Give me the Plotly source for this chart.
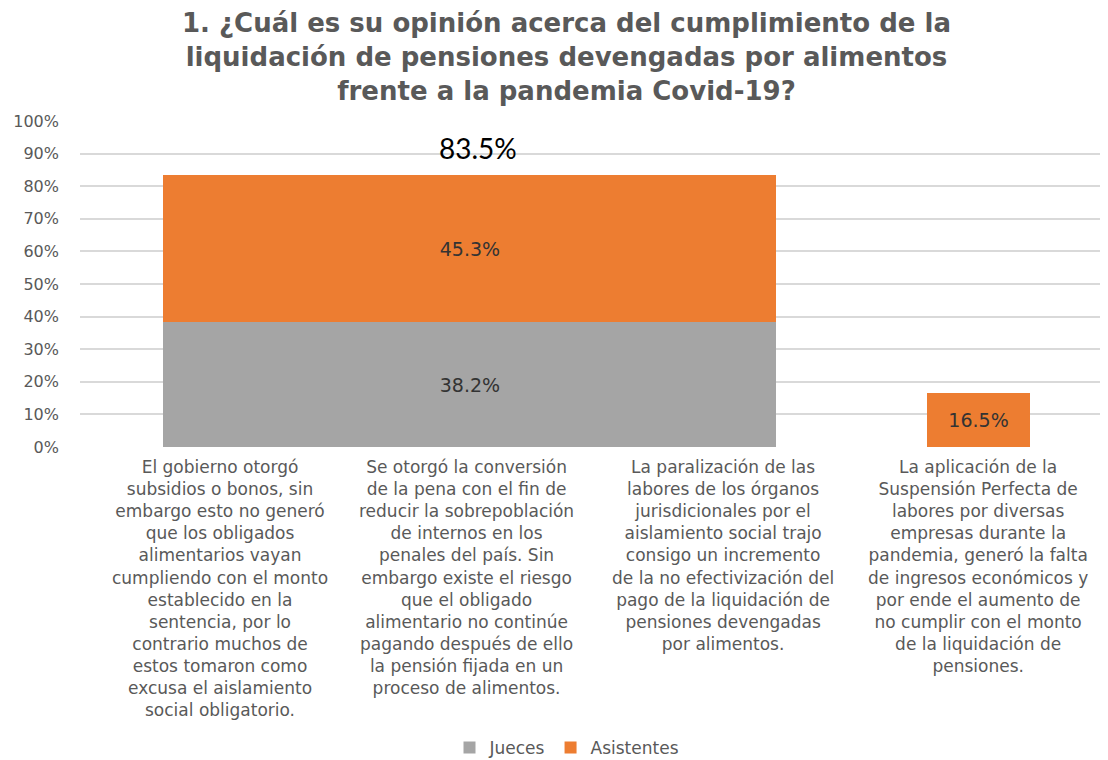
import plotly.graph_objects as go

# ---------------- data ----------------
categories = [
    "El gobierno otorgó<br>subsidios o bonos, sin<br>embargo esto no generó<br>que los obligados<br>alimentarios vayan<br>cumpliendo con el monto<br>establecido en la<br>sentencia, por lo<br>contrario muchos de<br>estos tomaron como<br>excusa el aislamiento<br>social obligatorio.",
    "Se otorgó la conversión<br>de la pena con el fin de<br>reducir la sobrepoblación<br>de internos en los<br>penales del país. Sin<br>embargo existe el riesgo<br>que el obligado<br>alimentario no continúe<br>pagando después de ello<br>la pensión fijada en un<br>proceso de alimentos.",
    "La paralización de las<br>labores de los órganos<br>jurisdicionales por el<br>aislamiento social trajo<br>consigo un incremento<br>de la no efectivización del<br>pago de la liquidación de<br>pensiones devengadas<br>por alimentos.",
    "La aplicación de la<br>Suspensión Perfecta de<br>labores por diversas<br>empresas durante la<br>pandemia, generó la falta<br>de ingresos económicos y<br>por ende el aumento de<br>no cumplir con el monto<br>de la liquidación de<br>pensiones.",
]
jueces = [None, 38.2, None, None]
asistentes = [None, 45.3, None, 16.5]
y_ticks = [0, 10, 20, 30, 40, 50, 60, 70, 80, 90, 100]
y_tick_labels = ["0%", "10%", "20%", "30%", "40%", "50%", "60%", "70%", "80%", "90%", "100%"]
title_text = ("1. ¿Cuál es su opinión acerca del cumplimiento de la<br>"
              "liquidación de pensiones devengadas por alimentos<br>"
              "frente a la pandemia Covid-19?")

# ---------------- styling ----------------
GREY = "#A5A5A5"
ORANGE = "#ED7D31"
TXT = "#595959"
W, H = 1100, 752
ML, MR, MT, MB = 72, 2, 113, 313
bar_width = [0.4, 2.39, 0.4, 0.40]
bar_offset = [-0.2, -1.175, -0.2, -0.197]

fig = go.Figure()
for name, vals, col in [("Jueces", jueces, GREY), ("Asistentes", asistentes, ORANGE)]:
    fig.add_trace(go.Bar(
        name=name, x=categories, y=vals,
        marker=dict(color=col, line=dict(width=0)),
        width=bar_width, offset=bar_offset,
        text=[None if v is None else f"{v:.1f}%" for v in vals],
        textposition="inside", insidetextanchor="middle",
        textangle=0, constraintext="none",
        textfont=dict(family="DejaVu Sans", size=19, color="#333333"),
    ))

# total label above the stacked bar
for i, cat in enumerate(categories):
    if jueces[i] is not None and asistentes[i] is not None:
        total = jueces[i] + asistentes[i]
        fig.add_annotation(x=cat, y=total, text=f"{total:.1f}%", showarrow=False,
                           yanchor="bottom", yshift=8, xshift=13,
                           font=dict(family="Lato", size=28, color="#000000"))

# category labels
label_shift = [12, 2, 2, 0]
for i, cat in enumerate(categories):
    fig.add_annotation(x=cat, y=0, yref="y", text=cat, showarrow=False,
                       yanchor="top", yshift=-8, xshift=label_shift[i], align="center",
                       font=dict(family="DejaVu Sans", size=17, color=TXT))

# title (as a centred multi-line annotation)
plot_h = H - MT - MB
fig.add_annotation(text=title_text, xref="paper", yref="paper",
                   x=(558 - ML) / (W - ML - MR), y=(H - MB - 49) / plot_h,
                   xanchor="center", yanchor="middle", showarrow=False, align="center",
                   font=dict(family="DejaVu Sans", size=26, color=TXT, weight="bold"))

fig.update_layout(
    width=W, height=H,
    barmode="stack",
    paper_bgcolor="white", plot_bgcolor="white",
    margin=dict(l=ML, r=MR, t=MT, b=MB, autoexpand=False),
    xaxis=dict(type="category", range=[-0.5, 3.5], showticklabels=False,
               showgrid=False, zeroline=False, showline=False, ticks=""),
    yaxis=dict(range=[0, 100], tickmode="array", tickvals=y_ticks, ticktext=y_tick_labels,
               gridcolor="#D9D9D9", gridwidth=1.5, zeroline=False, showline=False,
               ticklabelstandoff=20,
               tickfont=dict(family="DejaVu Sans", size=16, color=TXT)),
    legend=dict(orientation="h", xref="container", yref="container",
                x=559 / W, xanchor="center", y=1 - 740 / H, yanchor="middle",
                font=dict(family="DejaVu Sans", size=17, color=TXT),
                itemwidth=30, traceorder="normal"),
    showlegend=True,
)

fig.write_html("out.html")
